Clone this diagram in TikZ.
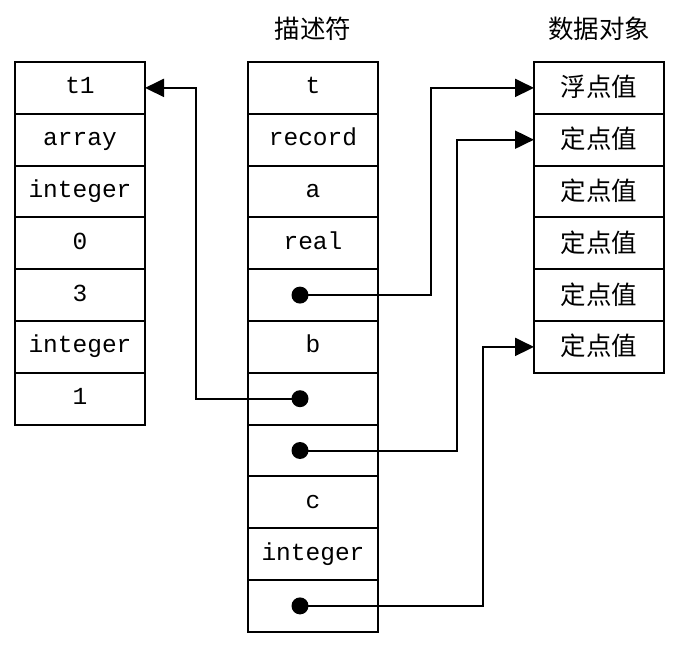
\documentclass[tikz,border=0pt]{standalone}
\usepackage{fontspec}
\setmonofont{Liberation Mono}
\newfontfamily\cjk{Noto Sans CJK SC}
\usetikzlibrary{positioning,arrows.meta}

\begin{document}
\begin{tikzpicture}
	[
		x                = 1pt,
		y                = 1pt,
		line width       = 2pt,
		link/.style      = {draw, -{Triangle[length=19pt,width=18pt]}}
	]
	\tikzstyle{cell}=[draw, outer sep=0pt, minimum width=130pt, minimum height=51.8pt, text height=17pt, text depth=5pt, font=\ttfamily\fontsize{24.5}{28}\selectfont]
	\tikzstyle{value}=[cell, text height=22pt, text depth=4pt, font=\cjk\fontsize{25.5}{30}\selectfont]
	\tikzstyle{head}=[inner sep=0pt, font=\cjk\fontsize{25.5}{30}\selectfont]
	\tikzstyle{dot}=[circle, fill, inner sep=0pt, minimum size=17pt]
	\useasboundingbox (0,0) rectangle (675,-647);
	% left column
	\node [cell, anchor=north] (l1) at (80,-62) {t1};
	\foreach \t [count=\i from 2] in {array,integer,0,3,integer,1}
	{
		\pgfmathtruncatemacro\j{\i-1}
		\node [cell, below=0pt of l\j] (l\i) {\t};
	}
	% descriptors
	\node [cell, anchor=north] (m1) at (313,-62) {t};
	\foreach \t [count=\i from 2] in {record,a,real,{},b,{},{},c,integer,{}}
	{
		\pgfmathtruncatemacro\j{\i-1}
		\node [cell, below=0pt of m\j] (m\i) {\t};
	}
	% data objects
	\node [value, anchor=north] (r1) at (599,-62) {浮点值};
	\foreach \i in {2,...,6}
	{
		\pgfmathtruncatemacro\j{\i-1}
		\node [value, below=0pt of r\j] (r\i) {定点值};
	}
	\node [head, above=20pt of m1] (hm) {描述符};
	\node [head, above=20pt of r1] (hr) {数据对象};
	% pointers
	\foreach \i in {5,7,8,11}
		\node [dot] (d\i) at ([xshift=-13pt]m\i.center) {};
	\draw [link] (d5.center) -| ([xshift=-103pt]r1.west) -- (r1.west);
	\draw [link] (d7.center) -| ([xshift=51pt]l1.east) -- (l1.east);
	\draw [link] (d8.center) -| ([xshift=-77pt]r2.west) -- (r2.west);
	\draw [link] (d11.center) -| ([xshift=-51pt]r6.west) -- (r6.west);
\end{tikzpicture}
\end{document}
